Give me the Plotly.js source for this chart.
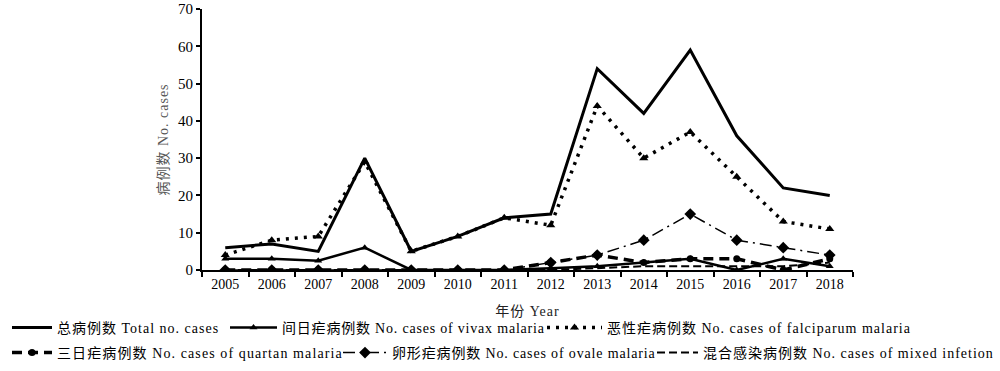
<!DOCTYPE html>
<html>
<head>
<meta charset="utf-8">
<script src="https://cdn.plot.ly/plotly-3.0.1.min.js"></script>
<style>
html,body{margin:0;padding:0;background:#fff;}
#chart{width:1000px;height:371px;}
</style>
</head>
<body>
<div id="chart"></div>
<script>
const years = ['2005','2006','2007','2008','2009','2010','2011','2012','2013','2014','2015','2016','2017','2018'];
const totalCases = [6, 7, 5, 30, 5, 9, 14, 15, 54, 42, 59, 36, 22, 20];
const vivaxCases = [3, 3, 2.5, 6, 0, 0, 0, 0.5, 1, 2, 3, 0, 3, 1];
const falciparumCases = [4, 8, 9, 29, 5, 9, 14, 12, 44, 30, 37, 25, 13, 11];
const quartanCases = [0, 0, 0, 0, 0, 0, 0, 2, 4, 2, 3, 3, 0, 3];
const ovaleCases = [0, 0, 0, 0, 0, 0, 0, 2, 4, 8, 15, 8, 6, 4];
const mixedCases = [0, 0, 0, 0, 0, 0, 0, 0, 0.5, 1, 1, 1, 1, 2];

const seriesNames = [
  '总病例数 Total no. cases',
  '间日疟病例数 No. cases of vivax malaria',
  '恶性疟病例数 No. cases of falciparum malaria',
  '三日疟病例数 No. cases of quartan malaria',
  '卵形疟病例数 No. cases of ovale malaria',
  '混合感染病例数 No. cases of mixed infetion'
];

const FONT = "'Liberation Serif', 'Noto Sans CJK SC', serif";

const traces = [
  {x: years, y: mixedCases, name: seriesNames[5], legend: 'legend6', mode: 'lines',
   line: {color: '#000', width: 2, dash: '8px,4px'}},
  {x: years, y: ovaleCases, name: seriesNames[4], legend: 'legend5', mode: 'lines+markers',
   line: {color: '#000', width: 1.5, dash: '12px,5px,2px,5px'},
   marker: {symbol: 'diamond', size: 9, color: '#000'}},
  {x: years, y: quartanCases, name: seriesNames[3], legend: 'legend4', mode: 'lines+markers',
   line: {color: '#000', width: 3.5, dash: '10px,6px'},
   marker: {symbol: 'circle', size: 7, color: '#000'}},
  {x: years, y: falciparumCases, name: seriesNames[2], legend: 'legend3', mode: 'lines+markers',
   line: {color: '#000', width: 3.5, dash: '3px,6px'},
   marker: {symbol: 'triangle-up', size: 8, color: '#000'}},
  {x: years, y: vivaxCases, name: seriesNames[1], legend: 'legend2', mode: 'lines+markers',
   line: {color: '#000', width: 2.5},
   marker: {symbol: 'triangle-up', size: 7, color: '#000'}},
  {x: years, y: totalCases, name: seriesNames[0], legend: 'legend', mode: 'lines',
   line: {color: '#000', width: 3}}
];

function lg(px, y, w) {
  return {x: px / 1000, y: y, xref: 'paper', yref: 'paper', xanchor: 'left', yanchor: 'middle',
    orientation: 'h', itemwidth: w, bgcolor: 'rgba(0,0,0,0)',
    font: {family: FONT, size: 14, color: '#000'}};
}

const layout = {
  width: 1000, height: 371,
  margin: {l: 0, r: 0, t: 9, b: 101},
  paper_bgcolor: '#fff', plot_bgcolor: '#fff',
  font: {family: FONT, size: 14, color: '#000'},
  showlegend: true,
  xaxis: {
    type: 'category', domain: [0.202, 0.853], range: [-0.5, 13.5],
    tickson: 'boundaries', ticks: 'outside', ticklen: 5, tickwidth: 2, tickcolor: '#000',
    showline: true, linewidth: 2, linecolor: '#000', showgrid: false, zeroline: false,
    tickfont: {family: FONT, size: 14, color: '#000'},
    title: {text: '年份 Year', standoff: 15, font: {family: FONT, size: 14, color: '#222'}}
  },
  yaxis: {
    range: [0, 70], dtick: 10, ticks: 'outside', ticklen: 4, tickwidth: 2, tickcolor: '#000',
    showline: true, linewidth: 2, linecolor: '#000', showgrid: false, zeroline: false,
    tickfont: {family: FONT, size: 15, color: '#000'},
    title: {text: '病例数 No. cases', standoff: 6, font: {family: FONT, size: 14, color: '#555'}}
  },
  legend: lg(7, -0.222, 40),
  legend2: lg(225, -0.222, 47),
  legend3: lg(542, -0.222, 55),
  legend4: lg(7, -0.318, 40),
  legend5: lg(338, -0.318, 44),
  legend6: lg(652, -0.318, 41)
};

const textSpacing = {legend: 1, legend2: 0.8, legend3: 1, legend4: 1.1, legend5: 0.85, legend6: 1};

Plotly.newPlot('chart', traces, layout, {staticPlot: true}).then(function (gd) {
  gd.querySelectorAll('g.infolayer > g').forEach(function (g) {
    const id = g.getAttribute('class');
    if (!(id in textSpacing)) return;
    g.querySelectorAll('text').forEach(function (t) { t.style.letterSpacing = textSpacing[id] + 'px'; });
    g.querySelectorAll('[clip-path]').forEach(function (e) { e.removeAttribute('clip-path'); });
  });
  gd.querySelectorAll('.ytitle, .xtitle').forEach(function (t) { t.style.letterSpacing = '1px'; });
});
</script>
</body>
</html>
